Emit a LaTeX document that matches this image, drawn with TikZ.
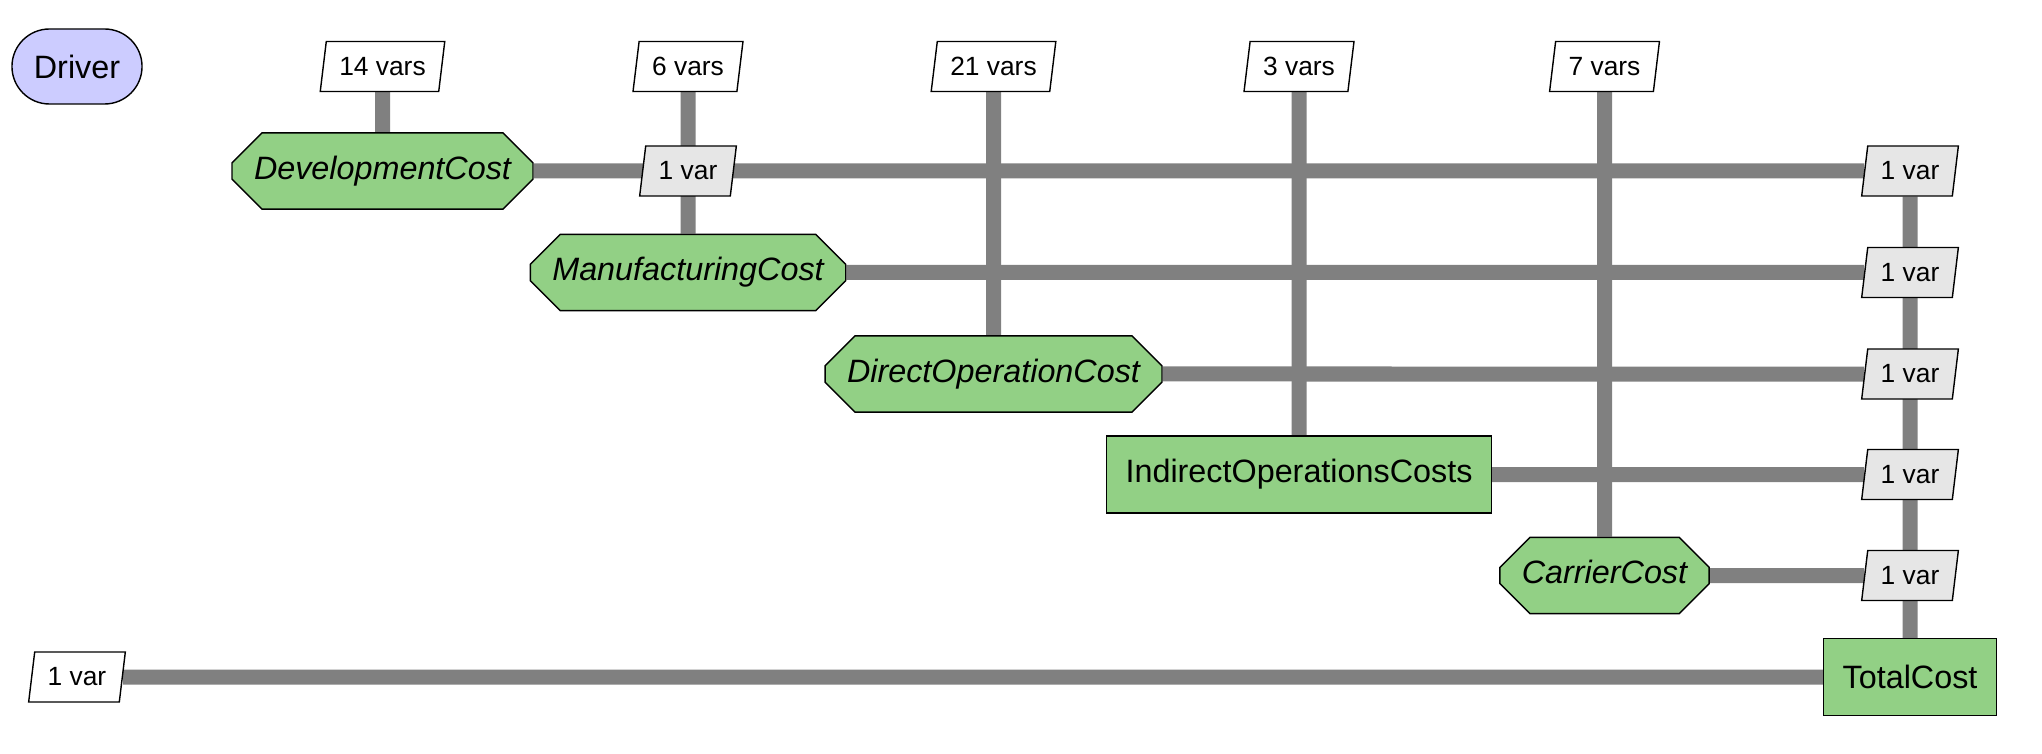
\documentclass[tikz,border=0pt]{standalone}
\usepackage{fontspec}
\setmainfont{Liberation Sans}
\usetikzlibrary{shapes.geometric,shapes.misc,backgrounds}
\definecolor{funcgreen}{RGB}{146,208,133}
\definecolor{drvblue}{RGB}{204,204,255}
\definecolor{feedgray}{RGB}{230,230,230}
\definecolor{wiregray}{RGB}{128,128,128}
\tikzset{
  func/.style={chamfered rectangle,chamfered rectangle xsep=1.5mm,chamfered rectangle ysep=1.5mm,
    draw=black,fill=funcgreen,font=\fontsize{9.2}{11}\selectfont\itshape,
    text height=6.7pt,text depth=1.9pt,inner ysep=0.8mm,inner xsep=0.7mm},
  sub/.style={rectangle,draw=black,fill=funcgreen,font=\fontsize{9.2}{11}\selectfont,
    minimum height=7.7mm,inner xsep=1.9mm},
  drv/.style={rounded rectangle,draw=black,fill=drvblue,inner xsep=2mm,
    minimum height=7.5mm,font=\fontsize{9.2}{11}\selectfont},
  data/.style={trapezium,trapezium left angle=78,trapezium right angle=102,
    trapezium stretches body,draw=black,fill=#1,font=\fontsize{7.5}{9}\selectfont,
    minimum height=5mm,inner xsep=1.3mm,inner ysep=0.5mm},
  data/.default=white,
  wire/.style={draw=wiregray,line width=1.5mm},
}
\begin{document}
\begin{tikzpicture}
  \useasboundingbox (0,0) rectangle (20.42,-7.54);
  \node[drv] (drv) at (0.77,-0.665) {Driver};
  % inputs on top row
  \foreach \c/\n/\t in {1/dev/14 vars,2/man/6 vars,3/dir/21 vars,4/ind/3 vars,5/car/7 vars}
    \node[data] (in-\n) at (0.77+3.055*\c,-0.665) {\t};
  % disciplines on the diagonal
  \node[func] (dev) at (3.825,-1.71) {DevelopmentCost};
  \node[func] (man) at (6.88,-2.725) {ManufacturingCost};
  \node[func] (dir) at (9.935,-3.74) {DirectOperationCost};
  \node[sub] (ind) at (12.99,-4.745) {IndirectOperationsCosts};
  \node[func] (car) at (16.045,-5.755) {CarrierCost};
  \node[sub] (tot) at (19.10,-6.77) {TotalCost};
  % couplings
  \node[data=feedgray] (dev-man) at (6.88,-1.71) {1 var};
  \foreach \y/\n in {1.71/dev,2.725/man,3.74/dir,4.745/ind,5.755/car}
    \node[data=feedgray] (out-\n) at (19.10,-\y) {1 var};
  \node[data] (out-tot) at (0.77,-6.77) {1 var};
  \begin{scope}[on background layer]
    \foreach \n in {dev,man,dir,ind,car}
      \draw[wire] (\n) -- (out-\n);
    \draw[wire] (out-tot) -- (tot);
    \foreach \n in {dev,man,dir,ind,car}
      \draw[wire] (in-\n) -- (\n);
    \draw[wire] (out-dev) -- (tot);
  \end{scope}
\end{tikzpicture}
\end{document}
